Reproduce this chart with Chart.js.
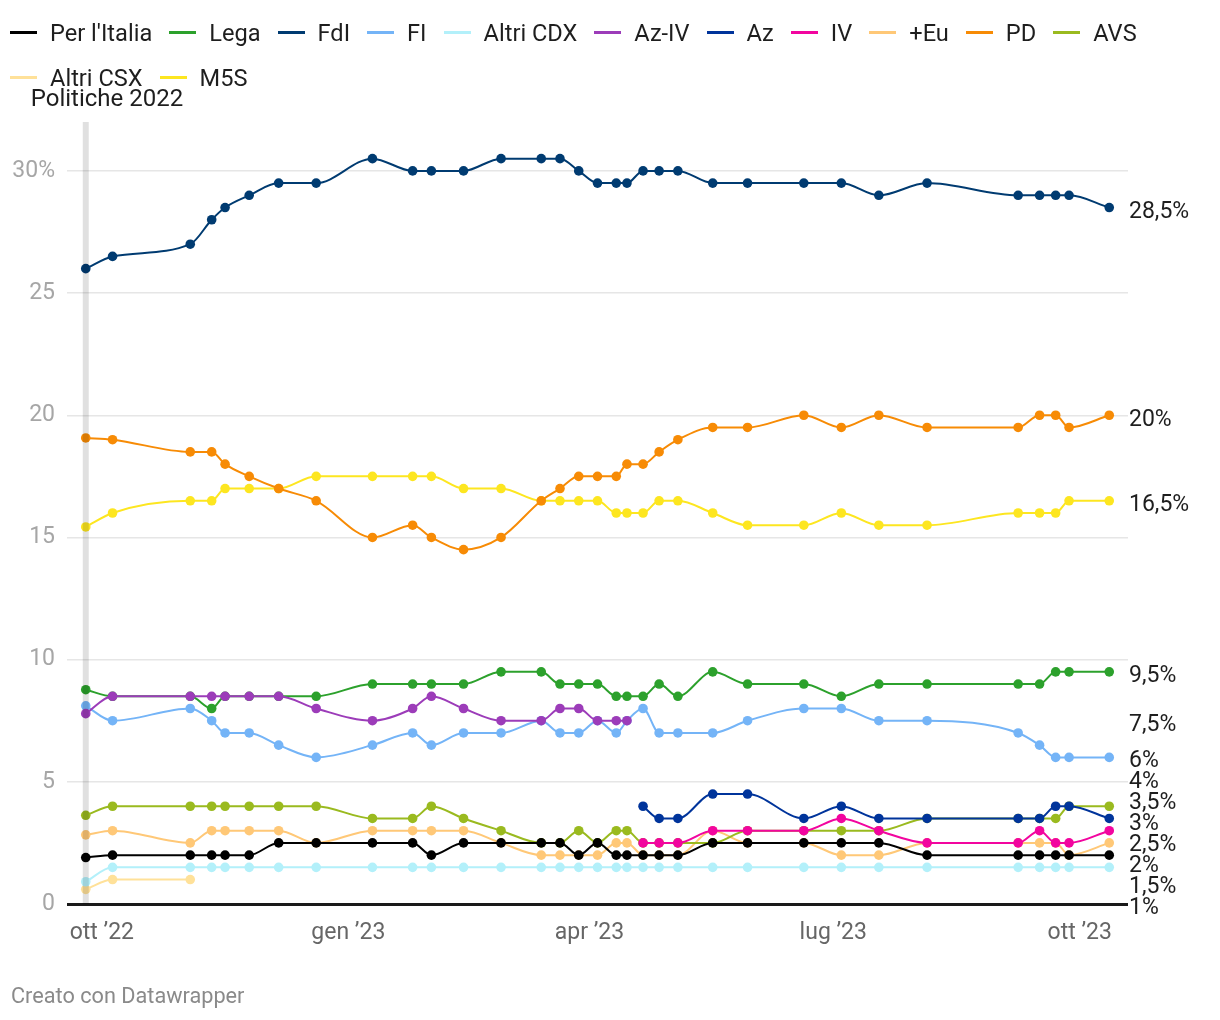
<!DOCTYPE html>
<html><head><meta charset="utf-8">
<script src="https://cdn.jsdelivr.net/npm/chart.js@4.4.1/dist/chart.umd.min.js"></script>
<style>
html,body{margin:0;padding:0;background:#fff;width:1220px;height:1020px;overflow:hidden;font-family:Roboto,"Noto Sans",sans-serif;}
#wrap{position:relative;width:1220px;height:1020px;}
#c{position:absolute;left:0;top:0;}
#legend{position:absolute;left:10px;top:10px;width:1205px;display:flex;flex-wrap:wrap;}
.item{display:flex;align-items:center;margin-right:17px;height:45px;font-size:23.6px;color:#1e1e1e;white-space:nowrap;}
.sw{width:27px;height:3px;margin-right:13px;}
#footer{position:absolute;left:11px;top:983px;font-size:21.7px;color:#8a8a8a;}
</style></head>
<body><div id="wrap"><canvas id="c" width="1220" height="1020"></canvas><div id="legend"></div><div id="footer">Creato con Datawrapper</div></div>
<script>
// ---- data ----
const dates = ["2022-09-25","2022-10-05","2022-11-03","2022-11-11","2022-11-16","2022-11-25","2022-12-06","2022-12-20",
"2023-01-10","2023-01-25","2023-02-01","2023-02-13","2023-02-27","2023-03-14","2023-03-21","2023-03-28",
"2023-04-04","2023-04-11","2023-04-15","2023-04-21","2023-04-27","2023-05-04","2023-05-17","2023-05-30",
"2023-06-20","2023-07-04","2023-07-18","2023-08-05","2023-09-08","2023-09-16","2023-09-22","2023-09-27","2023-10-12"];

const seriesNames = ["Per l'Italia","Lega","FdI","FI","Altri CDX","Az-IV","Az","IV","+Eu","PD","AVS","Altri CSX","M5S"];

const perItalia = [1.9,2,2,2,2,2,2.5,2.5, 2.5,2.5,2,2.5,2.5,2.5,2.5,2, 2.5,2,2,2,2,2,2.5,2.5, 2.5,2.5,2.5,2,2,2,2,2,2];
const lega      = [8.77,8.5,8.5,8,8.5,8.5,8.5,8.5, 9,9,9,9,9.5,9.5,9,9, 9,8.5,8.5,8.5,9,8.5,9.5,9, 9,8.5,9,9,9,9,9.5,9.5,9.5];
const fdi       = [26,26.5,27,28,28.5,29,29.5,29.5, 30.5,30,30,30,30.5,30.5,30.5,30, 29.5,29.5,29.5,30,30,30,29.5,29.5, 29.5,29.5,29,29.5,29,29,29,29,28.5];
const fi        = [8.11,7.5,8,7.5,7,7,6.5,6, 6.5,7,6.5,7,7,7.5,7,7, 7.5,7,7.5,8,7,7,7,7.5, 8,8,7.5,7.5,7,6.5,6,6,6];
const altriCdx  = [0.91,1.5,1.5,1.5,1.5,1.5,1.5,1.5, 1.5,1.5,1.5,1.5,1.5,1.5,1.5,1.5, 1.5,1.5,1.5,1.5,1.5,1.5,1.5,1.5, 1.5,1.5,1.5,1.5,1.5,1.5,1.5,1.5,1.5];
const azIv      = [7.79,8.5,8.5,8.5,8.5,8.5,8.5,8, 7.5,8,8.5,8,7.5,7.5,8,8, 7.5,7.5,7.5,null,null,null,null,null, null,null,null,null,null,null,null,null,null];
const az        = [null,null,null,null,null,null,null,null, null,null,null,null,null,null,null,null, null,null,null,4,3.5,3.5,4.5,4.5, 3.5,4,3.5,3.5,3.5,3.5,4,4,3.5];
const iv        = [null,null,null,null,null,null,null,null, null,null,null,null,null,null,null,null, null,null,null,2.5,2.5,2.5,3,3, 3,3.5,3,2.5,2.5,3,2.5,2.5,3];
const piuEuropa = [2.83,3,2.5,3,3,3,3,2.5, 3,3,3,3,2.5,2,2,2, 2,2.5,2.5,2,2,2,3,2.5, 2.5,2,2,2.5,2.5,2.5,2.5,2,2.5];
const pd        = [19.07,19,18.5,18.5,18,17.5,17,16.5, 15,15.5,15,14.5,15,16.5,17,17.5, 17.5,17.5,18,18,18.5,19,19.5,19.5, 20,19.5,20,19.5,19.5,20,20,19.5,20];
const avs       = [3.63,4,4,4,4,4,4,4, 3.5,3.5,4,3.5,3,2.5,2.5,3, 2.5,3,3,2.5,2.5,2.5,2.5,3, 3,3,3,3.5,3.5,3.5,3.5,4,4];
const altriCsx  = [0.6,1,1,null,null,null,null,null, null,null,null,null,null,null,null,null, null,null,null,null,null,null,null,null, null,null,null,null,null,null,null,null,null];
const m5s       = [15.43,16,16.5,16.5,17,17,17,17.5, 17.5,17.5,17.5,17,17,16.5,16.5,16.5, 16.5,16,16,16,16.5,16.5,16,15.5, 15.5,16,15.5,15.5,16,16,16,16.5,16.5];

const tickDates  = ["2022-10-01","2023-01-01","2023-04-01","2023-07-01","2023-10-01"];
const tickLabels = ["ott \u201922","gen \u201923","apr \u201923","lug \u201923","ott \u201923"];
const yTicks = [0,5,10,15,20,25,30];
const xRange = ["2022-09-18","2023-10-19"];
const electionDate = "2022-09-25";
const electionLabel = "Politiche 2022";

// ---- styles ----
const colors = ["#000000","#2ca12c","#003b71","#74b4f7","#b3f0fa","#9c3cb9","#00349b","#f2059f","#ffc877","#f78b05","#9aba1f","#ffe199","#fde620"];
const drawOrder = [0,5,9,4,10,3,2,1,7,11,6,12,13];
const values = [perItalia,lega,fdi,fi,altriCdx,azIv,az,iv,piuEuropa,pd,avs,altriCsx,m5s];

const toDay = s => Date.UTC(+s.slice(0,4), +s.slice(5,7)-1, +s.slice(8,10)) / 864e5;

const datasets = seriesNames.map((name,k) => ({
  label: name,
  data: dates.map((d,i)=>({x:toDay(d), y:values[k][i]})).filter(p=>p.y!==null),
  borderColor: colors[k], backgroundColor: colors[k],
  pointBackgroundColor: colors[k], pointBorderWidth: 0, pointRadius: 4.8,
  borderWidth: 2, cubicInterpolationMode: 'monotone', order: drawOrder[k], fill:false
}));

// HTML legend
const leg = document.getElementById('legend');
seriesNames.forEach((n,k)=>{
  const it=document.createElement('div'); it.className='item';
  const sw=document.createElement('span'); sw.className='sw'; sw.style.background=colors[k];
  const t=document.createElement('span'); t.textContent=n;
  it.appendChild(sw); it.appendChild(t); leg.appendChild(it);
});

const fmt = v => String(v).replace('.',',') + '%';

const overlayPlugin = {
  id:'overlay',
  afterDatasetsDraw(chart){
    const {ctx, chartArea, scales} = chart;
    const x = scales.x.getPixelForValue(toDay(electionDate));
    ctx.save();
    ctx.fillStyle='rgba(0,0,0,0.12)';
    ctx.fillRect(x-3, chartArea.top, 6, chartArea.bottom-chartArea.top);
    ctx.fillStyle='#1e1e1e';
    ctx.font='24px Roboto';
    ctx.textBaseline='middle'; ctx.textAlign='left';
    ctx.fillText(electionLabel, x-55, chartArea.top-22);
    // end labels
    const labs = chart.data.datasets.map(ds=>{
      const last = ds.data[ds.data.length-1].y;
      return {v:last, y:scales.y.getPixelForValue(last)+4.5};
    }).sort((a,b)=>a.y-b.y);
    const gap = 21;
    for(let it=0; it<300; it++){
      let moved=false;
      for(let i=0;i<labs.length-1;i++){
        const d = labs[i+1].y - labs[i].y;
        if(d<gap-0.01){ const m=(gap-d)/2; labs[i].y-=m; labs[i+1].y+=m; moved=true; }
      }
      if(!moved) break;
    }
    const maxY = chartArea.bottom+4;
    if(labs[labs.length-1].y>maxY) labs[labs.length-1].y=maxY;
    for(let i=labs.length-2;i>=0;i--) labs[i].y=Math.min(labs[i].y, labs[i+1].y-gap);
    ctx.font='23px Roboto'; ctx.fillStyle='#1e1e1e';
    labs.forEach(l=>ctx.fillText(fmt(l.v), chartArea.right+1, l.y));
    ctx.restore();
  }
};

new Chart(document.getElementById('c'), {
  type:'line',
  data:{datasets},
  options:{
    responsive:false, animation:false, devicePixelRatio:1,
    layout:{padding:{top:122,right:92,left:0,bottom:0}},
    plugins:{legend:{display:false}, tooltip:{enabled:false}},
    scales:{
      x:{type:'linear', min:toDay(xRange[0]), max:toDay(xRange[1]),
         grid:{display:false, drawTicks:false}, border:{display:false},
         afterBuildTicks: s => { s.ticks = tickDates.map(d=>({value:toDay(d)})); },
         afterFit: s => { s.height = 116; },
         ticks:{autoSkip:false, maxRotation:0, padding:15, color:'#666', font:{family:'Roboto', size:23},
                callback:(v,i)=>tickLabels[i]}},
      y:{type:'linear', min:0, max:32,
         afterBuildTicks: s => { s.ticks = yTicks.map(v=>({value:v})); },
         afterFit: s => { s.width = 67; },
         grid:{drawTicks:false, color: c => c.tick && c.tick.value===0 ? '#1a1a1a' : '#e6e6e6',
               lineWidth: c => c.tick && c.tick.value===0 ? 3 : 1.5},
         border:{display:false},
         ticks:{padding:12, color:'#a6a6a6', font:{family:'Roboto', size:23},
                callback: v => v===30 ? '30%' : String(v)}}
    }
  },
  plugins:[overlayPlugin]
});
</script></body></html>
